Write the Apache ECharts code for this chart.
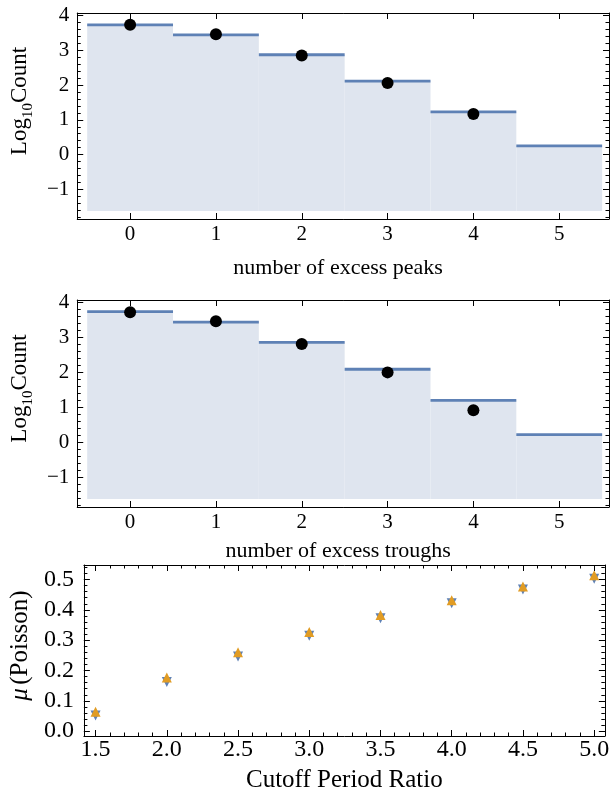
<!DOCTYPE html>
<html><head><meta charset="utf-8">
<script src="https://cdn.jsdelivr.net/npm/echarts@6/dist/echarts.min.js"></script>
<style>html,body{margin:0;padding:0;background:#fff}#c{width:612px;height:798px}</style>
</head><body><div id="c"></div>
<script>
// ---- data ----
const bins = [0, 1, 2, 3, 4, 5];
const peaksHist = [3.73, 3.44, 2.87, 2.11, 1.23, 0.25];
const peaksPts = [3.73, 3.46, 2.85, 2.06, 1.17];
const troughsHist = [3.74, 3.44, 2.86, 2.09, 1.20, 0.22];
const troughsPts = [3.72, 3.46, 2.81, 2.00, 0.92];
const histBase = -1.62;
const cutoffRatio = [1.5, 2.0, 2.5, 3.0, 3.5, 4.0, 4.5, 5.0];
const muOrange = [0.064, 0.177, 0.260, 0.327, 0.383, 0.432, 0.477, 0.514];
const muBlue = [0.052, 0.162, 0.246, 0.315, 0.372, 0.422, 0.467, 0.503];
const countTicks = [-1, 0, 1, 2, 3, 4];
const binTicks = [0, 1, 2, 3, 4, 5];
const muTicks = [0.0, 0.1, 0.2, 0.3, 0.4, 0.5];
const ratioTicks = [1.5, 2.0, 2.5, 3.0, 3.5, 4.0, 4.5, 5.0];

// ---- helpers ----
const FONT = 'Liberation Serif';
function range(a, b, s) { const r = []; for (let v = a; v <= b + 1e-9; v += s) r.push(+v.toFixed(4)); return r; }
const countMinor = range(-1.8, 4.0, 0.2);
const muMinor = range(0, 0.54, 0.02);
const ratioMinor = range(1.5, 5.0, 0.1);

const xAxes = [], yAxes = [];
function addAxis(list, o) { list.push(o); return list.length - 1; }
function mkAxis(grid, pos, min, max, ticks, len, opts) {
  opts = opts || {};
  return Object.assign({
    type: 'value', gridIndex: grid, position: pos, min: min, max: max,
    axisLine: { show: !!opts.line, onZero: false, lineStyle: { color: '#000', width: 1 } },
    axisTick: { show: true, inside: true, length: len, customValues: ticks, lineStyle: { color: '#000', width: 1 } },
    axisLabel: opts.labels ? {
      show: true, customValues: ticks, color: '#000', fontFamily: FONT, fontSize: opts.fs || 21,
      margin: opts.margin, formatter: opts.fmt
    } : { show: false },
    splitLine: { show: false }, z: 5
  }, opts.extra || {});
}

const grids = [
  { left: 76, width: 533, top: 13, height: 206 },
  { left: 76, width: 533, top: 300, height: 207 },
  { left: 76, width: 533, top: 565, height: 171 }
];

const logName = '{a|Log}{s|10}{a|Count}';
const logRich = {
  a: { fontFamily: FONT, fontSize: 23, color: '#000', verticalAlign: 'top', lineHeight: 28 },
  s: { fontFamily: FONT, fontSize: 15, color: '#000', verticalAlign: 'bottom', lineHeight: 28 }
};

const axisIdx = [];
[0, 1].forEach(function (g) {
  const xmin = -0.616, xmax = 5.58, ymin = -1.85, ymax = 4.07;
  const xb = addAxis(xAxes, mkAxis(g, 'bottom', xmin, xmax, binTicks, 6, {
    line: true, labels: true, margin: 5, fmt: v => String(v),
    extra: {
      name: g === 0 ? 'number of excess peaks' : 'number of excess troughs',
      nameLocation: 'middle', nameGap: g === 0 ? 38 : 33,
      nameTextStyle: { fontFamily: FONT, fontSize: 22, color: '#000', padding: [0, 10, 0, 0] }
    }
  }));
  addAxis(xAxes, mkAxis(g, 'top', xmin, xmax, binTicks, 6, { line: true }));
  const yl = addAxis(yAxes, mkAxis(g, 'left', ymin, ymax, countTicks, 6, {
    line: true, labels: true, margin: 8, fmt: v => (v < 0 ? '\u2212' + Math.abs(v) : String(v)),
    extra: {
      name: logName, nameLocation: 'middle', nameGap: 32,
      nameTextStyle: { rich: logRich, padding: [0, 0, 0, 30] }
    }
  }));
  addAxis(yAxes, mkAxis(g, 'left', ymin, ymax, countMinor, 3.5, {}));
  addAxis(yAxes, mkAxis(g, 'right', ymin, ymax, countTicks, 6, { line: true }));
  addAxis(yAxes, mkAxis(g, 'right', ymin, ymax, countMinor, 3.5, {}));
  axisIdx.push({ x: xb, y: yl });
});
// bottom chart
const bx = addAxis(xAxes, mkAxis(2, 'bottom', 1.418, 5.075, ratioTicks, 6, {
  line: true, labels: true, margin: 2, fs: 24, fmt: v => v.toFixed(1),
  extra: {
    name: 'Cutoff Period Ratio', nameLocation: 'middle', nameGap: 32,
    nameTextStyle: { fontFamily: FONT, fontSize: 25, color: '#000' }
  }
}));
addAxis(xAxes, mkAxis(2, 'bottom', 1.418, 5.075, ratioMinor, 3.5, {}));
addAxis(xAxes, mkAxis(2, 'top', 1.418, 5.075, ratioTicks, 6, { line: true }));
addAxis(xAxes, mkAxis(2, 'top', 1.418, 5.075, ratioMinor, 3.5, {}));
const by = addAxis(yAxes, mkAxis(2, 'left', -0.016, 0.548, muTicks, 6, {
  line: true, labels: true, margin: 10, fs: 24, fmt: v => v.toFixed(1),
  extra: {
    name: '{i|\u03bc} {a|(Poisson)}', nameLocation: 'middle', nameGap: 47,
    nameTextStyle: {
      padding: [0, 0, 0, 10],
      rich: {
        i: { fontFamily: FONT, fontSize: 25, fontStyle: 'italic', color: '#000' },
        a: { fontFamily: FONT, fontSize: 25, color: '#000' }
      }
    }
  }
}));
addAxis(yAxes, mkAxis(2, 'left', -0.016, 0.548, muMinor, 3.5, {}));
addAxis(yAxes, mkAxis(2, 'right', -0.016, 0.548, muTicks, 6, { line: true }));
addAxis(yAxes, mkAxis(2, 'right', -0.016, 0.548, muMinor, 3.5, {}));

function fillSeries(i, vals) {
  return {
    type: 'custom', xAxisIndex: axisIdx[i].x, yAxisIndex: axisIdx[i].y, z: 1,
    data: bins.map((b, k) => [b, vals[k]]), encode: { x: 0, y: 1 },
    renderItem: function (params, api) {
      const x = api.value(0), v = api.value(1);
      const p1 = api.coord([x - 0.5, v]), p2 = api.coord([x + 0.5, histBase]);
      return { type: 'rect', shape: { x: p1[0], y: p1[1], width: p2[0] - p1[0], height: p2[1] - p1[1] },
        style: { fill: '#dfe5ef' } };
    }
  };
}
function stepSeries(i, vals) {
  return {
    type: 'custom', xAxisIndex: axisIdx[i].x, yAxisIndex: axisIdx[i].y, z: 2,
    data: bins.map((b, k) => [b, vals[k]]), encode: { x: 0, y: 1 },
    renderItem: function (params, api) {
      const x = api.value(0), v = api.value(1);
      const p1 = api.coord([x - 0.5, v]), p2 = api.coord([x + 0.5, v]);
      return { type: 'line', shape: { x1: p1[0], y1: p1[1], x2: p2[0], y2: p2[1] },
        style: { stroke: '#5e81b5', lineWidth: 2.8 } };
    }
  };
}
function dotSeries(i, vals) {
  return {
    type: 'scatter', xAxisIndex: axisIdx[i].x, yAxisIndex: axisIdx[i].y, z: 3,
    data: vals.map((v, k) => [bins[k], v]), symbol: 'circle', symbolSize: 12,
    itemStyle: { color: '#000', opacity: 1 }
  };
}

const option = {
  animation: false,
  grid: grids,
  xAxis: xAxes,
  yAxis: yAxes,
  series: [
    fillSeries(0, peaksHist), stepSeries(0, peaksHist), dotSeries(0, peaksPts),
    fillSeries(1, troughsHist), stepSeries(1, troughsHist), dotSeries(1, troughsPts),
    {
      type: 'scatter', xAxisIndex: bx, yAxisIndex: by, z: 3,
      data: cutoffRatio.map((r, k) => [r, muBlue[k]]), symbol: 'triangle', symbolRotate: 180,
      symbolSize: [10, 10], itemStyle: { color: '#5e81b5', opacity: 1 }
    },
    {
      type: 'scatter', xAxisIndex: bx, yAxisIndex: by, z: 4,
      data: cutoffRatio.map((r, k) => [r, muOrange[k]]), symbol: 'triangle',
      symbolSize: [10, 10], itemStyle: { color: '#e19c24', opacity: 1 }
    }
  ]
};
const chart = echarts.init(document.getElementById('c'), null, { renderer: 'canvas' });
chart.setOption(option);
</script></body></html>
